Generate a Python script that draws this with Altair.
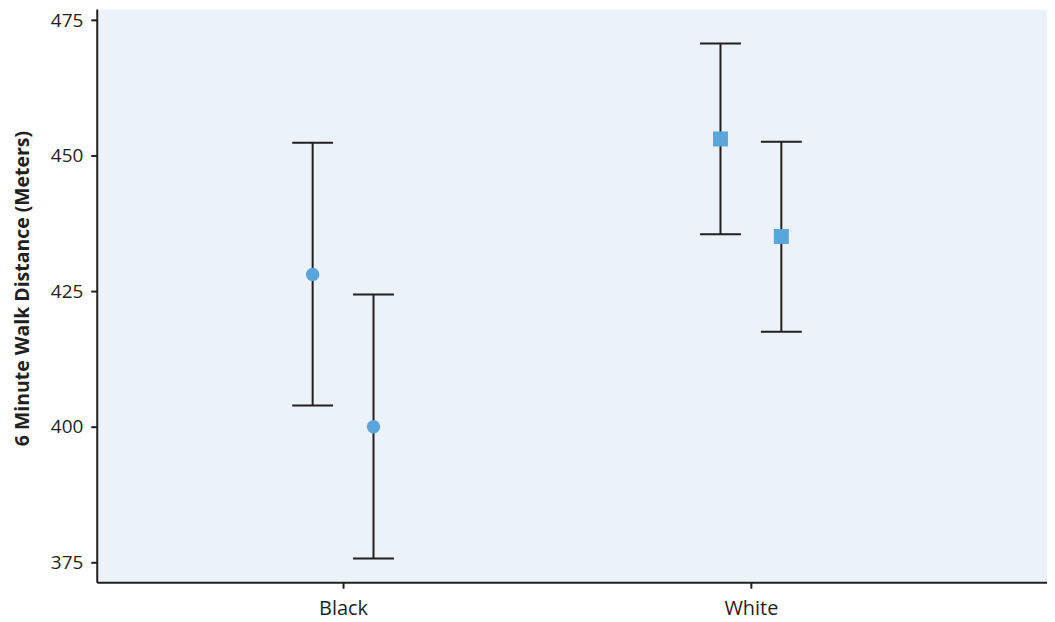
import altair as alt
import pandas as pd

groups = ["Black", "Black", "White", "White"]
subgroups = ["First", "Second", "First", "Second"]
means = [428.1, 400.0, 453.1, 435.1]
lowers = [403.9, 375.7, 435.5, 417.5]
uppers = [452.4, 424.4, 470.7, 452.6]
categories = ["Black", "White"]

df = pd.DataFrame({
    "group": groups,
    "sub": subgroups,
    "mean": means,
    "lower": lowers,
    "upper": uppers,
})

base = alt.Chart(df).transform_calculate(
    pos="(datum.group == 'Black' ? 1 : 2) + (datum.sub == 'First' ? -0.0746 : 0.0746)"
)

FONT = "Open Sans"
INK = "#231f20"

xscale = alt.Scale(domain=[0.396, 2.726], nice=False, zero=False)
yscale = alt.Scale(domain=[371.3, 477.1], nice=False, zero=False)

xaxis = alt.Axis(
    values=[1, 2],
    labelExpr="datum.value == 1 ? 'Black' : (datum.value == 2 ? 'White' : '')",
    title=None, grid=False, domainColor=INK, domainWidth=2,
    tickColor=INK, tickWidth=2, tickSize=6, labelPadding=10,
    labelFont=FONT, labelFontSize=20, labelColor=INK,
)
yaxis = alt.Axis(
    values=[375, 400, 425, 450, 475],
    title="6 Minute Walk Distance (Meters)", grid=False,
    domainColor=INK, domainWidth=2, tickColor=INK, tickWidth=2,
    tickSize=6, labelPadding=8, labelFont=FONT, labelFontSize=19,
    labelColor=INK, titleFont=FONT, titleFontSize=19.5,
    titleFontWeight="bold", titleColor=INK, titlePadding=18,
    titleY=280,
)

x = alt.X("pos:Q", scale=xscale, axis=xaxis)

rules = base.mark_rule(color=INK, strokeWidth=2).encode(
    x=x,
    y=alt.Y("lower:Q", scale=yscale, axis=yaxis),
    y2="upper:Q",
)
cap_lo = base.mark_tick(orient="horizontal", size=41, thickness=2, color=INK, opacity=1).encode(
    x=x, y=alt.Y("lower:Q", scale=yscale)
)
cap_hi = base.mark_tick(orient="horizontal", size=41, thickness=2, color=INK, opacity=1).encode(
    x=x, y=alt.Y("upper:Q", scale=yscale)
)
points = base.mark_point(filled=True, opacity=1, color="#5aa5db").encode(
    x=x,
    y=alt.Y("mean:Q", scale=yscale),
    shape=alt.Shape("group:N", scale=alt.Scale(domain=categories, range=["circle", "square"]), legend=None),
    size=alt.Size("group:N", scale=alt.Scale(domain=categories, range=[180, 225]), legend=None),
)

chart = alt.layer(rules, cap_lo, cap_hi, points).properties(
    width=953, height=575,
    background="white",
    autosize=alt.AutoSizeParams(type="none"),
    padding={"left": 89, "top": 0, "right": 0, "bottom": 40},
).configure_view(
    fill="#ebf2fa", stroke="transparent",
)

chart.save("out.html", embed_options={"renderer": "svg", "actions": False})
